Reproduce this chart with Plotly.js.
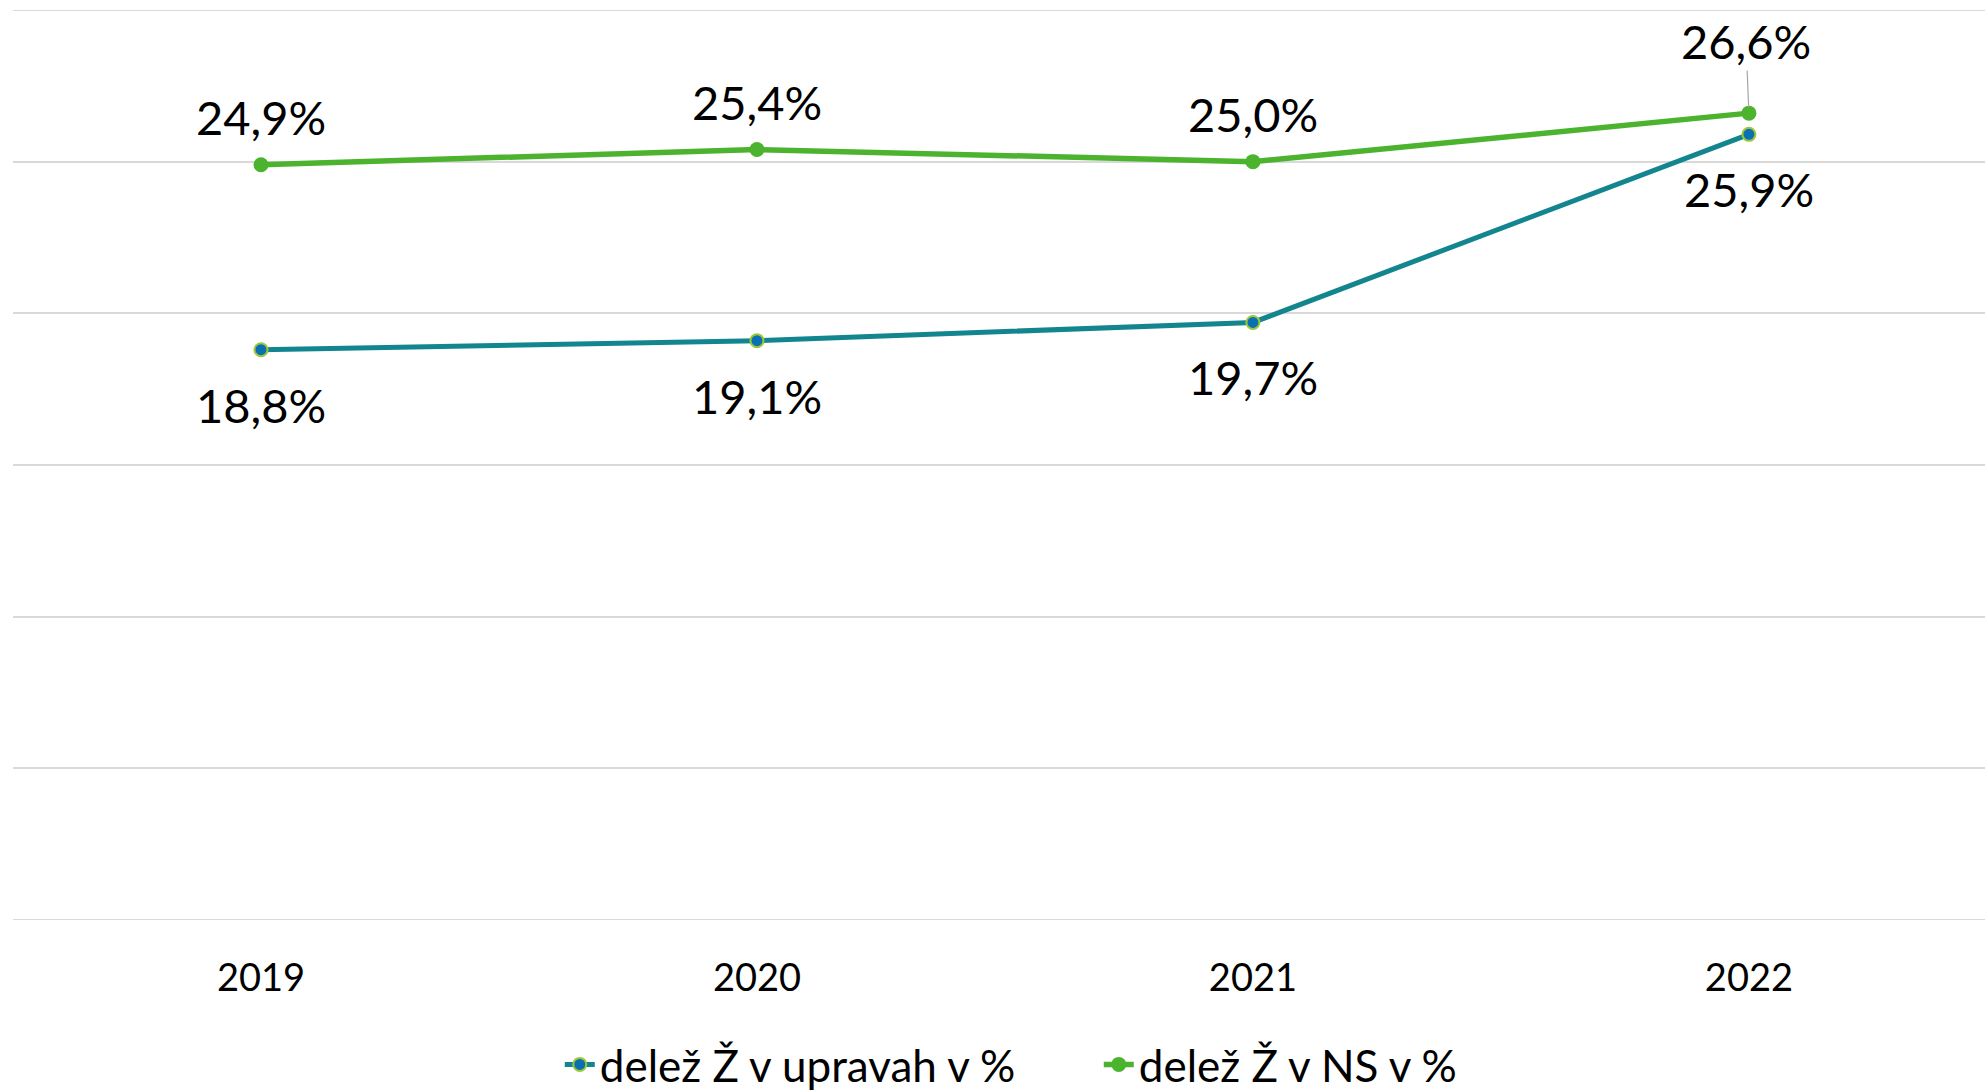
<!DOCTYPE html>
<html>
<head>
<meta charset="utf-8">
<script src="https://cdn.plot.ly/plotly-3.0.1.min.js"></script>
<style>html,body{margin:0;padding:0;background:#fff;overflow:hidden;}</style>
</head>
<body>
<div id="chart" style="width:1985px;height:1091px;"></div>
<script>
const years = ["2019", "2020", "2021", "2022"];
const sharesUpravah = [18.8, 19.1, 19.7, 25.9];
const sharesNS = [24.9, 25.4, 25.0, 26.6];
const seriesNames = ["delež Ž v upravah v %", "delež Ž v NS v %"];
const gridTicks = [0, 5, 10, 15, 20, 25, 30];

const FONT = "Lato, 'Open Sans', sans-serif";
const fmt = v => v.toFixed(1).replace(".", ",") + "%";

const traces = [
  {
    x: years, y: sharesUpravah, name: seriesNames[0], type: "scatter", mode: "lines+markers",
    line: {color: "#13858f", width: 5},
    marker: {size: 13, color: "#0a6fb3", line: {color: "#9cc83a", width: 2}},
    hoverinfo: "skip"
  },
  {
    x: years, y: sharesNS, name: seriesNames[1], type: "scatter", mode: "lines+markers",
    line: {color: "#4bb32e", width: 5.5},
    marker: {size: 15, color: "#4bb32e"},
    hoverinfo: "skip"
  }
];

const LABEL_SIZE = 47;
const annotations = [];
for (let i = 0; i < years.length; i++) {
  annotations.push({
    xref: "x", yref: "y", x: i, y: sharesUpravah[i], text: fmt(sharesUpravah[i]), showarrow: false,
    yshift: -55, font: {family: FONT, size: LABEL_SIZE, color: "#000000"}
  });
  if (i === years.length - 1) {
    annotations.push({
      xref: "x", yref: "y", x: i, y: sharesNS[i], text: fmt(sharesNS[i]), showarrow: true,
      arrowhead: 0, arrowwidth: 1.2, arrowcolor: "#a6a6a6", ax: -3, ay: -72, standoff: 6,
      font: {family: FONT, size: LABEL_SIZE, color: "#000000"}
    });
  } else {
    annotations.push({
      xref: "x", yref: "y", x: i, y: sharesNS[i], text: fmt(sharesNS[i]), showarrow: false,
      yshift: 48, font: {family: FONT, size: LABEL_SIZE, color: "#000000"}
    });
  }
}

const edgeLines = [gridTicks[0], gridTicks[gridTicks.length - 1]].map(v => ({
  type: "line", xref: "paper", yref: "y", x0: 0, x1: 1, y0: v, y1: v,
  line: {color: "#d9d9d9", width: 2}, layer: "below"
}));

const layout = {
  width: 1985, height: 1091,
  margin: {l: 13, r: 0, t: 10, b: 171, pad: 0},
  paper_bgcolor: "#fff", plot_bgcolor: "#fff",
  showlegend: true,
  legend: {
    orientation: "h", xref: "container", yref: "container",
    x: 0.282, xanchor: "left", y: 0.024, yanchor: "middle",
    entrywidth: 494, entrywidthmode: "pixels",
    font: {family: FONT, size: 44, color: "#000"}
  },
  xaxis: {
    type: "category", range: [-0.5, 3.476], showgrid: false, zeroline: false, showline: false,
    ticks: "outside", ticklen: 24, tickcolor: "rgba(0,0,0,0)",
    tickfont: {family: FONT, size: 38, color: "#000"}, fixedrange: true
  },
  yaxis: {
    range: [0, 30], tickvals: gridTicks, showgrid: true, gridcolor: "#d9d9d9", gridwidth: 2,
    zeroline: false, showticklabels: false, showline: false, fixedrange: true
  },
  shapes: edgeLines,
  annotations: annotations
};

Plotly.newPlot("chart", traces, layout, {displayModeBar: false});
</script>
</body>
</html>
